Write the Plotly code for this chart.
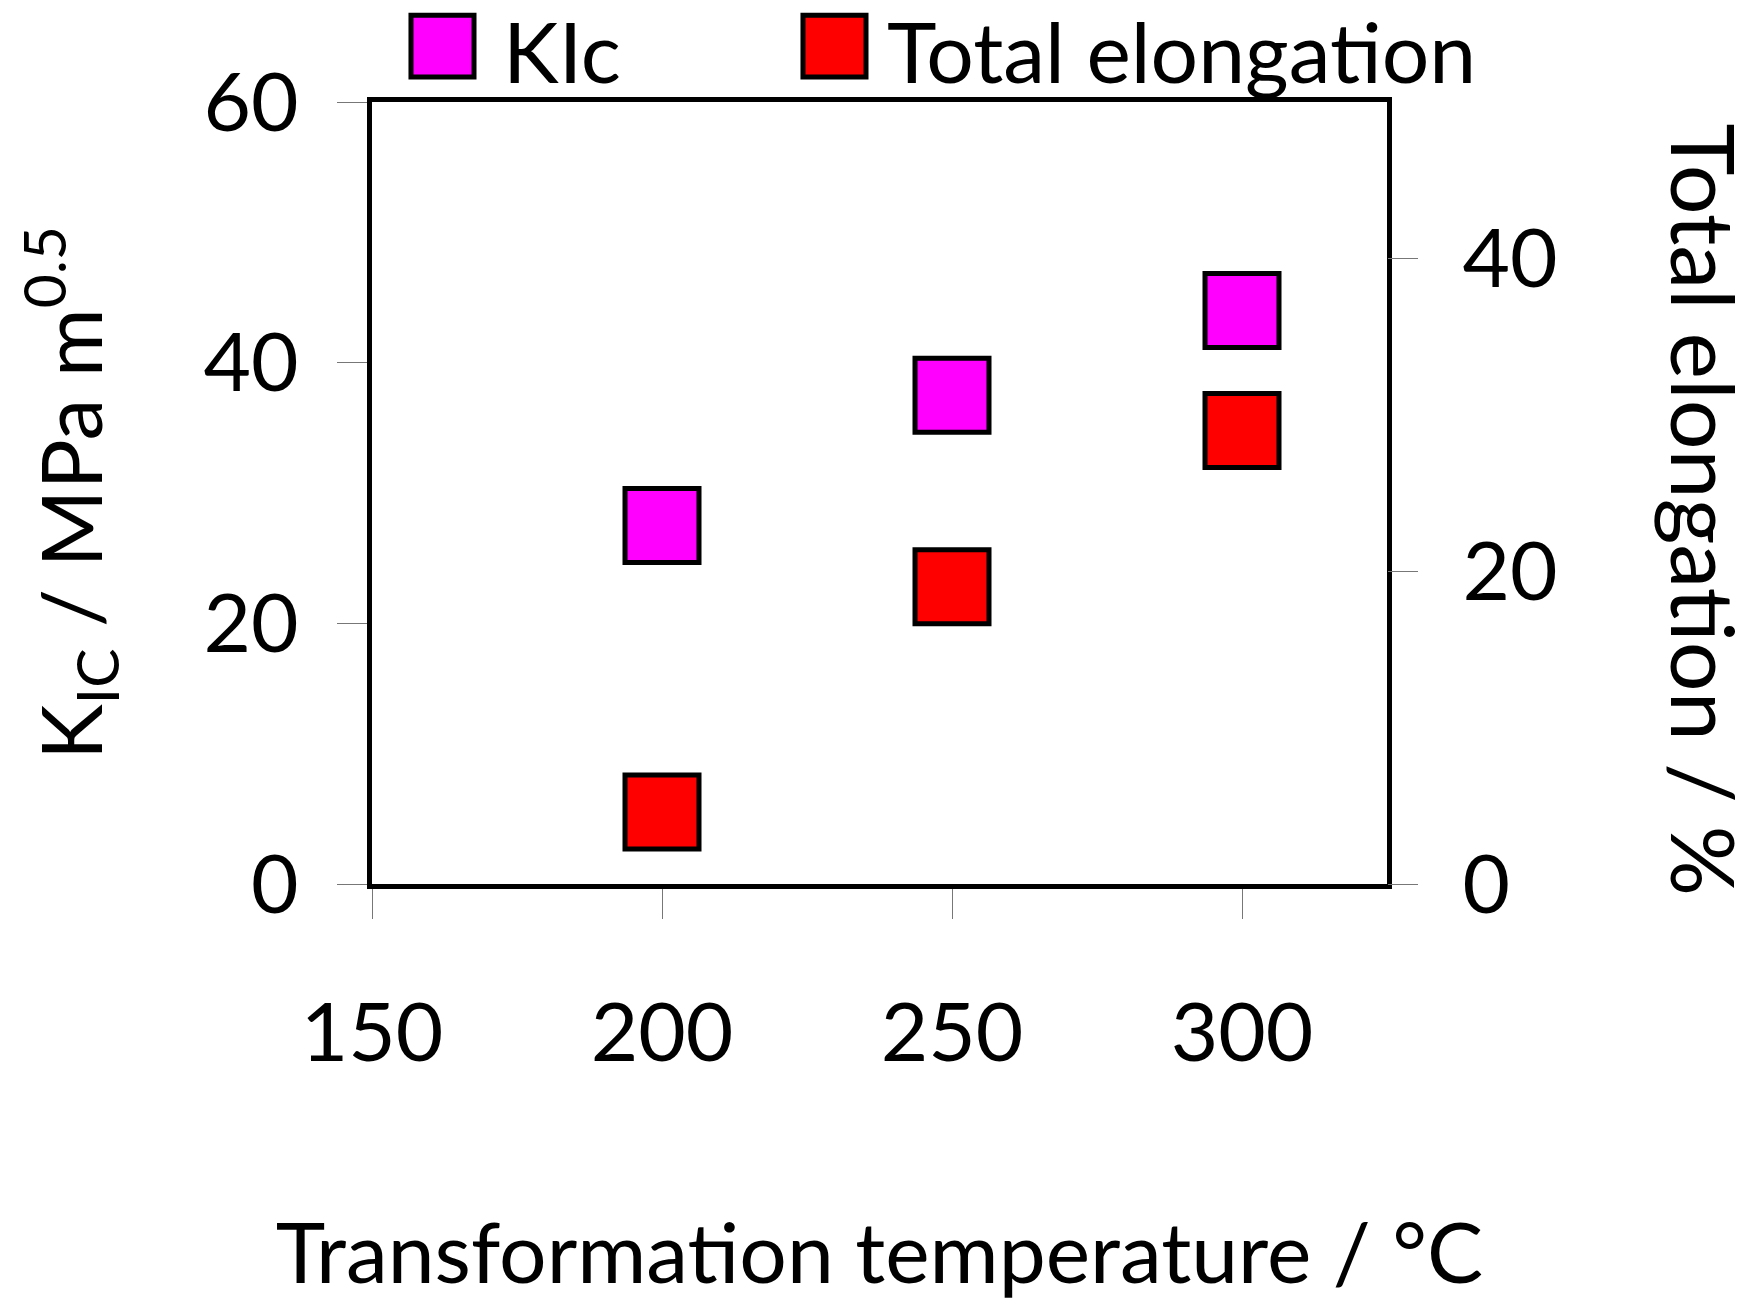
import plotly.graph_objects as go

# ---- data ----
temperature = [200, 250, 300]
kic = [27.5, 37.5, 44.0]
total_elongation = [4.6, 19.0, 29.0]
series_names = ["KIc", "Total elongation"]
series_colors = ["#FF00FF", "#FF0000"]

x_ticks = [150, 200, 250, 300]
y_ticks = [0, 20, 40, 60]
y2_ticks = [0, 20, 40]

FONT = "Lato"
W, H = 1758, 1307
L, R, T, B = 372, 371, 102, 423

fig = go.Figure()
fig.add_trace(go.Scatter(
    x=temperature, y=kic, mode="markers", name=series_names[0],
    marker=dict(symbol="square", size=74, color=series_colors[0],
                line=dict(color="black", width=5)),
    showlegend=False, yaxis="y"))
fig.add_trace(go.Scatter(
    x=temperature, y=total_elongation, mode="markers", name=series_names[1],
    marker=dict(symbol="square", size=74, color=series_colors[1],
                line=dict(color="black", width=5)),
    showlegend=False, yaxis="y2"))

tickfont = dict(family=FONT, size=82, color="black")
titlefont = dict(family=FONT, size=84, color="black")

fig.update_layout(
    width=W, height=H,
    margin=dict(l=L, r=R, t=T, b=B, autoexpand=False),
    paper_bgcolor="white", plot_bgcolor="white",
    showlegend=False,
    xaxis=dict(
        range=[150, 325], tickvals=x_ticks, ticktext=[str(v) for v in x_ticks],
        showgrid=False, zeroline=False,
        showline=True, linecolor="black", linewidth=5, mirror=True,
        ticks="outside", ticklen=30, tickwidth=1.2, tickcolor="#777777",
        tickfont=tickfont, ticklabelstandoff=44,
        title=dict(text="Transformation temperature / °C", font=titlefont, standoff=148),
    ),
    yaxis=dict(
        range=[0, 60], tickvals=y_ticks,
        showgrid=False, zeroline=False,
        showline=True, linecolor="black", linewidth=5, mirror=True,
        ticks="outside", ticklen=30, tickwidth=1.2, tickcolor="#777777",
        tickfont=tickfont, ticklabelstandoff=22,
        title=dict(text="K<sub>IC</sub> / MPa m<sup>0.5</sup>", font=titlefont, standoff=75),
    ),
    yaxis2=dict(
        range=[0, 50], tickvals=y2_ticks, overlaying="y", side="right",
        showgrid=False, zeroline=False, showline=False,
        ticks="outside", ticklen=30, tickwidth=1.2, tickcolor="#777777",
        tickfont=tickfont, ticklabelstandoff=28,
    ),
    yaxis3=dict(
        range=[0, 50], tickvals=y2_ticks, overlaying="y", side="right",
        anchor="x", showgrid=False, zeroline=False, showline=False,
        ticks="inside", ticklen=30, tickwidth=1.2, tickcolor="#777777",
        showticklabels=False,
    ),
)

# right axis title, reading top to bottom
fig.add_annotation(text="Total elongation / %", xref="paper", yref="paper",
                   x=1.313, y=0.478, xanchor="center", yanchor="middle",
                   textangle=90, showarrow=False,
                   font=dict(family=FONT, size=88, color="black"))

# custom legend (large keys)
legend_keys = [
    (0.0384, 0.1005, 0.127),
    (0.4246, 0.4867, 0.5050),
]
for (x0, x1, tx), name, col in zip(legend_keys, series_names, series_colors):
    fig.add_shape(type="rect", xref="paper", yref="paper",
                  x0=x0, x1=x1, y0=1.032, y1=1.111,
                  fillcolor=col, line=dict(color="black", width=5))
    fig.add_annotation(text=name, xref="paper", yref="paper", x=tx, y=1.066,
                       xanchor="left", yanchor="middle", showarrow=False,
                       font=dict(family=FONT, size=84, color="black"))

fig.write_html("out.html")
